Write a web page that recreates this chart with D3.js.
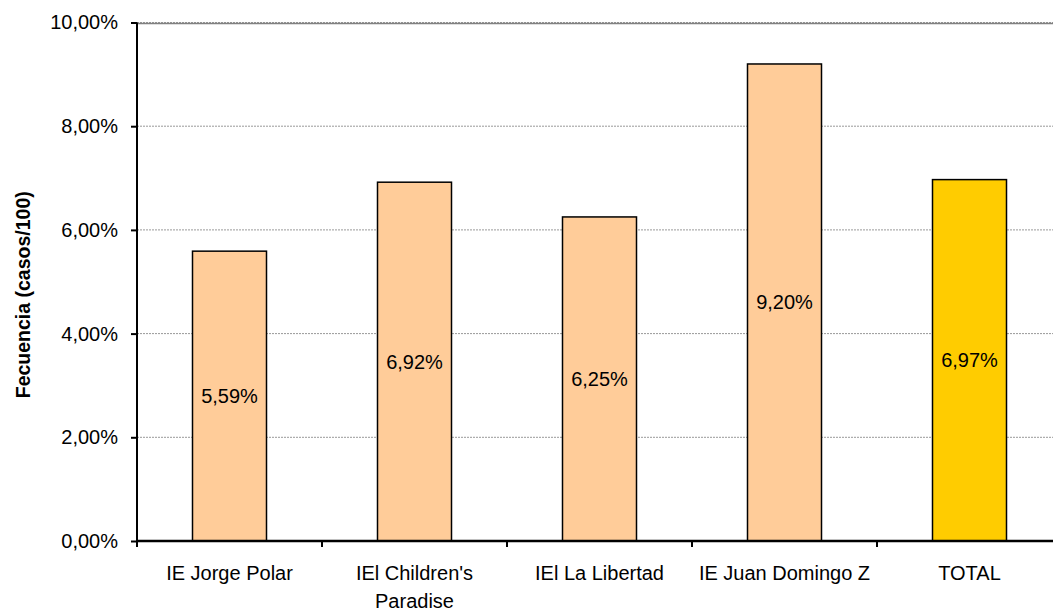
<!DOCTYPE html>
<html>
<head>
<meta charset="utf-8">
<style>
  body { margin: 0; background: #fff; }
  text { font-family: "Liberation Sans", Arial, sans-serif; }
</style>
</head>
<body>
<svg id="chart" width="1053" height="613"></svg>
<script src="https://cdn.jsdelivr.net/npm/d3@7/dist/d3.min.js"></script>
<script>

var categories = ["IE Jorge Polar", "IEl Children's Paradise", "IEl La Libertad", "IE Juan Domingo Z", "TOTAL"];
var values = [5.59, 6.92, 6.25, 9.20, 6.97];
var yTicks = [0, 2, 4, 6, 8, 10];
var yTitle = "Fecuencia (casos/100)";

var svg = d3.select("#chart"),
    margin = {top: 22.5, left: 137, bottom: 72},
    plotW = 925,
    height = +svg.attr("height") - margin.top - margin.bottom,
    g = svg.append("g").attr("transform", "translate(" + margin.left + "," + margin.top + ")");

var fmt = function(v) { return d3.format(".2f")(v).replace(".", ",") + "%"; };

var x = d3.scaleBand()
    .domain(categories)
    .range([0, plotW])
    .paddingInner(0.6)
    .paddingOuter(0.3);

var y = d3.scaleLinear()
    .domain([0, 10])
    .range([height, 0]);

// gridlines
g.append("g")
  .selectAll("line")
  .data(yTicks.slice(1))
  .enter().append("line")
    .attr("x1", 0)
    .attr("x2", 1053 - margin.left)
    .attr("y1", function(d) { return y(d); })
    .attr("y2", function(d) { return y(d); })
    .attr("stroke", "#999")
    .attr("stroke-width", 1)
    .attr("stroke-dasharray", "2,1");

g.append("line")
    .attr("x1", 0)
    .attr("x2", 1053 - margin.left)
    .attr("y1", y(10) + 1)
    .attr("y2", y(10) + 1)
    .attr("stroke", "#808080")
    .attr("stroke-width", 1.5);

// bars
g.selectAll(".bar")
  .data(values)
  .enter().append("rect")
    .attr("class", "bar")
    .attr("x", function(d, i) { return x(categories[i]); })
    .attr("y", function(d) { return y(d); })
    .attr("width", x.bandwidth())
    .attr("height", function(d) { return height - y(d); })
    .attr("fill", function(d, i) { return categories[i] === "TOTAL" ? "#ffcc00" : "#ffcc99"; })
    .attr("stroke", "#000")
    .attr("stroke-width", 1.5);

// value labels
g.selectAll(".val")
  .data(values)
  .enter().append("text")
    .attr("class", "val")
    .attr("x", function(d, i) { return x(categories[i]) + x.bandwidth() / 2; })
    .attr("y", function(d) { return (y(d) + height) / 2; })
    .attr("dy", "0.35em")
    .attr("text-anchor", "middle")
    .attr("font-size", "20px")
    .attr("fill", "#000")
    .text(fmt);

// y axis
var yAxis = g.append("g")
    .call(d3.axisLeft(y).tickValues(yTicks).tickSize(6).tickPadding(13).tickFormat(fmt));
yAxis.select(".domain").attr("stroke", "#000").attr("stroke-width", 2).attr("d", "M0,0V" + height);
yAxis.selectAll(".tick line").attr("stroke", "#000").attr("stroke-width", 2);
yAxis.selectAll(".tick text").attr("font-size", "20px").attr("fill", "#000")
    .style("font-family", "'Liberation Sans', Arial, sans-serif");

// x axis
var step = x.step();
var xAxis = g.append("g").attr("transform", "translate(0," + height + ")");
xAxis.append("line")
    .attr("x1", 0).attr("x2", 1053 - margin.left)
    .attr("stroke", "#000").attr("stroke-width", 2.5);
xAxis.selectAll(".xt")
  .data(d3.range(categories.length + 1))
  .enter().append("line")
    .attr("x1", function(i) { return i * step; })
    .attr("x2", function(i) { return i * step; })
    .attr("y1", 0).attr("y2", 6)
    .attr("stroke", "#000").attr("stroke-width", 2);

xAxis.selectAll(".xl")
  .data(categories)
  .enter().append("text")
    .attr("class", "xl")
    .attr("x", function(d) { return x(d) + x.bandwidth() / 2; })
    .attr("y", 39)
    .attr("text-anchor", "middle")
    .attr("font-size", "20px")
    .attr("fill", "#000")
    .each(function(d) {
      var t = d3.select(this), words = d.split(" "), line = [], lines = [];
      words.forEach(function(w) {
        var test = line.concat(w).join(" ");
        t.text(test);
        if (line.length && t.node().getComputedTextLength() > 178) {
          lines.push(line.join(" "));
          line = [w];
        } else {
          line.push(w);
        }
      });
      lines.push(line.join(" "));
      t.text(null);
      lines.forEach(function(l, k) {
        t.append("tspan")
          .attr("x", t.attr("x"))
          .attr("dy", k ? 28 : 0)
          .text(l);
      });
    });

// y title
svg.append("text")
    .attr("transform", "translate(30," + (margin.top + height / 2 + 13) + ") rotate(-90)")
    .attr("text-anchor", "middle")
    .attr("font-size", "19.5px")
    .attr("font-weight", "bold")
    .attr("fill", "#000")
    .text(yTitle);

</script>
</body>
</html>
